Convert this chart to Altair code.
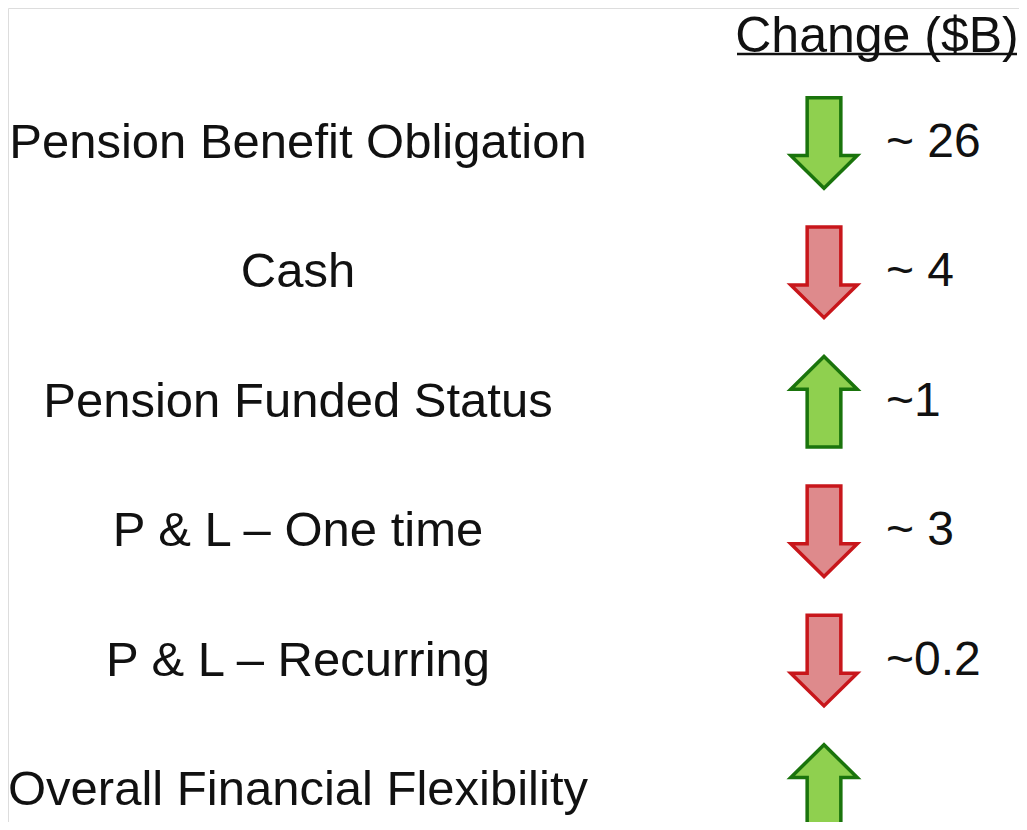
import altair as alt
import pandas as pd

labels = ["Pension Benefit Obligation", "Cash", "Pension Funded Status",
          "P & L – One time", "P & L – Recurring", "Overall Financial Flexibility"]
values = ["~ 26", "~ 4", "~1", "~ 3", "~0.2", ""]
directions = ["down", "down", "up", "down", "down", "up"]
effects = ["good", "bad", "good", "bad", "bad", "good"]
header = "Change ($B)"

df = pd.DataFrame({"row": list(range(len(labels))), "label": labels, "value": values,
                   "direction": directions, "effect": effects})

DOWN = "M -0.372 -1 L 0.372 -1 L 0.372 0.277 L 0.734 0.277 L 0 1 L -0.734 0.277 L -0.372 0.277 Z"
UP = "M -0.372 1 L 0.372 1 L 0.372 -0.277 L 0.734 -0.277 L 0 -1 L -0.734 -0.277 L -0.372 -0.277 Z"

W, H = 1011, 814
FONT = "Liberation Sans"

yenc = alt.Y("row:Q", scale=alt.Scale(domain=[-1.043, 5.247], reverse=True, nice=False, zero=False), axis=None)

base = alt.Chart(df)

label_layer = base.mark_text(font=FONT, fontSize=49, align="center", baseline="middle", color="#111111").encode(
    x=alt.value(290), y=yenc, text="label:N")

arrow_layer = base.mark_point(filled=True, strokeWidth=3.5, strokeJoin="miter", opacity=1, fillOpacity=1,
                              size=8200).encode(
    x=alt.value(816), y=yenc,
    shape=alt.Shape("direction:N", scale=alt.Scale(domain=["down", "up"], range=[DOWN, UP]), legend=None),
    fill=alt.Fill("effect:N", scale=alt.Scale(domain=["good", "bad"], range=["#8fd04f", "#de8a8c"]), legend=None),
    stroke=alt.Stroke("effect:N", scale=alt.Scale(domain=["good", "bad"], range=["#1a740c", "#c8161b"]), legend=None),
)

value_layer = base.mark_text(font=FONT, fontSize=48, align="left", baseline="middle", color="#111111").encode(
    x=alt.value(878), y=yenc, text="value:N")

hdr = pd.DataFrame({"t": [header]})
header_layer = alt.Chart(hdr).mark_text(font=FONT, fontSize=50, align="center", baseline="middle",
                                        color="#111111").encode(
    x=alt.value(869), y=alt.value(29), text="t:N")
underline = alt.Chart(hdr).mark_rule(strokeWidth=2.5, color="#111111").encode(
    x=alt.value(729), x2=alt.value(1009), y=alt.value(46))

chart = alt.layer(label_layer, arrow_layer, value_layer, header_layer, underline).properties(
    width=W, height=H, padding=0, autosize="none"
).configure_view(stroke=None).configure(background="white")

chart.save("out.html", embed_options={"renderer": "svg", "actions": False})
